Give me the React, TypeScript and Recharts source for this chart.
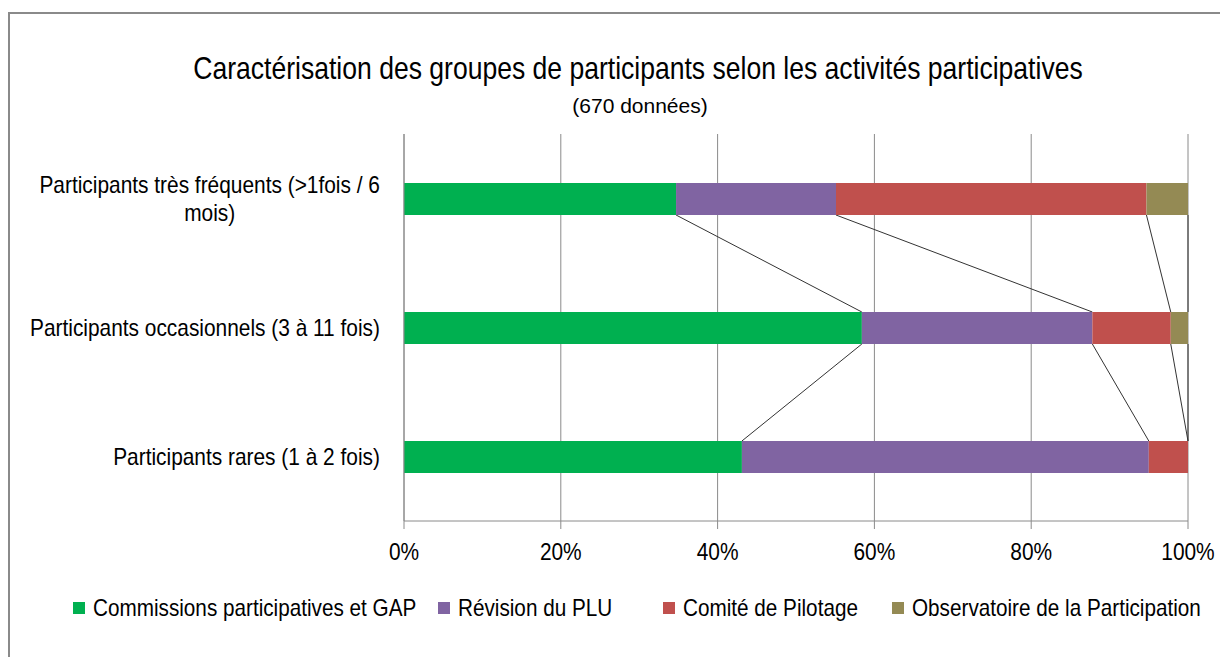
import React from "react";
import { BarChart, Bar, XAxis, YAxis, CartesianGrid } from "recharts";

// données (en %)
const categories = [
  "Participants très fréquents (>1fois / 6 mois)",
  "Participants occasionnels (3 à 11 fois)",
  "Participants rares (1 à 2 fois)",
];
const seriesNames = [
  "Commissions participatives et GAP",
  "Révision du PLU",
  "Comité de Pilotage",
  "Observatoire de la Participation",
];
const commissions = [34.7, 58.4, 43.1];
const revision = [20.4, 29.4, 51.9];
const comite = [39.6, 10.0, 5.0];
const observatoire = [5.3, 2.2, 0];
const xTicks = [0, 20, 40, 60, 80, 100];

const seriesKeys = ["commissions", "revision", "comite", "observatoire"];
const seriesValues = [commissions, revision, comite, observatoire];
const colors = ["#00B050", "#8064A2", "#C0504D", "#948A54"];

const data = categories.map((name, i) => ({
  name,
  commissions: commissions[i],
  revision: revision[i],
  comite: comite[i],
  observatoire: observatoire[i],
}));

const W = 1220;
const H = 657;
const MARGIN = { top: 134, right: 32, bottom: 96, left: 0 };
const XAXIS_H = 40;
const PLOT_H = H - MARGIN.top - MARGIN.bottom - XAXIS_H;
const STEP = PLOT_H / categories.length;
const FONT = '"Liberation Sans", Arial, sans-serif';
const SX = 0.87; // police un peu étroite dans l'original
const LEG_FS = 23.8;
const LEG_LEFT = [73, 438, 663, 892]; // position des carrés de légende

let ctx: CanvasRenderingContext2D | null = null;
const measure = (text: string, size: number) => {
  if (!ctx) ctx = document.createElement("canvas").getContext("2d");
  if (!ctx) return text.length * size * 0.5 * SX;
  ctx.font = `${size}px "Liberation Sans"`;
  return ctx.measureText(text).width * SX;
};

const wrap = (text: string, size: number, maxW: number) => {
  const words = text.split(" ");
  const lines: string[] = [];
  let cur = "";
  words.forEach((w) => {
    const test = cur ? cur + " " + w : w;
    if (cur && measure(test, size) > maxW) {
      lines.push(cur);
      cur = w;
    } else cur = test;
  });
  if (cur) lines.push(cur);
  return lines;
};

const cumBefore = (k: number, row: number) => {
  let s = 0;
  for (let j = 0; j < k; j++) s += seriesValues[j][row];
  return s;
};

// rectangle + ligne de série vers la barre suivante
const makeShape = (k: number) => (props: any) => {
  const { x, y, width, height, index, fill } = props;
  const v = seriesValues[k][index];
  let line = null;
  if (index < categories.length - 1 && v > 0) {
    const unit = width / v;
    const left = x - cumBefore(k, index) * unit;
    const nextEnd = cumBefore(k + 1, index + 1);
    line = (
      <line
        x1={x + width}
        y1={y + height}
        x2={left + nextEnd * unit}
        y2={y + STEP}
        stroke="#333"
        strokeWidth={1}
      />
    );
  }
  return (
    <g>
      <rect x={x} y={y} width={Math.max(width, 0)} height={height} fill={fill} />
      {line}
    </g>
  );
};

const XTick = (props: any) => {
  const { x, y, payload } = props;
  return (
    <text
      transform={`translate(${x},${y + 29}) scale(${SX},1)`}
      textAnchor="middle"
      fontSize={24}
      fontFamily={FONT}
      fill="#000"
    >
      {payload.value}%
    </text>
  );
};

const YTick = (props: any) => {
  const { x, y, payload } = props;
  const lines = wrap(String(payload.value), 24, 362);
  const maxW = Math.max(...lines.map((l) => measure(l, 24)));
  const cx = x - maxW / 2;
  return (
    <g>
      {lines.map((l, i) => (
        <text
          key={i}
          transform={`translate(${cx},${y + (i - (lines.length - 1) / 2) * 28}) scale(${SX},1)`}
          textAnchor="middle"
          dy="0.35em"
          fontSize={24}
          fontFamily={FONT}
          fill="#000"
        >
          {l}
        </text>
      ))}
    </g>
  );
};

const Legend = () => (
  <>
    {seriesNames.map((n, i) => (
      <div
        key={n}
        style={{
          position: "absolute",
          left: LEG_LEFT[i],
          top: 596,
          display: "flex",
          alignItems: "center",
          fontFamily: FONT,
          fontSize: LEG_FS,
          lineHeight: "24px",
          whiteSpace: "nowrap",
        }}
      >
        <div style={{ width: 12, height: 12, background: colors[i], marginRight: 8 }} />
        <div style={{ width: measure(n, LEG_FS), height: 24 }}>
          <span
            style={{
              display: "inline-block",
              transform: `scaleX(${SX})`,
              transformOrigin: "left center",
            }}
          >
            {n}
          </span>
        </div>
      </div>
    ))}
  </>
);

const App = () => {
  return (
    <div style={{ position: "relative", width: W, height: H, background: "#fff", overflow: "hidden" }}>
      <style>{"body{margin:0;overflow:hidden}"}</style>
      <div
        style={{
          position: "absolute",
          left: 8,
          top: 12,
          width: W,
          height: H,
          borderLeft: "2px solid #8a8a8a",
          borderTop: "2px solid #8a8a8a",
          boxSizing: "border-box",
        }}
      />
      <div
        style={{
          position: "absolute",
          left: 638,
          top: 52.5,
          fontFamily: FONT,
          fontSize: 30.5,
          lineHeight: "30.5px",
          whiteSpace: "nowrap",
          transform: `translateX(-50%) scaleX(${SX})`,
        }}
      >
        Caractérisation des groupes de participants selon les activités participatives
      </div>
      <div
        style={{
          position: "absolute",
          left: 640,
          top: 95.2,
          fontFamily: FONT,
          fontSize: 21,
          lineHeight: "21px",
          whiteSpace: "nowrap",
          transform: "translateX(-50%)",
        }}
      >
        (670 données)
      </div>
      <div style={{ position: "absolute", left: 0, top: 0 }}>
        <BarChart width={W} height={H} data={data} layout="vertical" margin={MARGIN} barSize={32}>
          <CartesianGrid horizontal={false} stroke="#8a8a8a" />
          <XAxis
            type="number"
            domain={[0, 100]}
            ticks={xTicks}
            height={XAXIS_H}
            tickSize={8}
            axisLine={{ stroke: "#8a8a8a" }}
            tickLine={{ stroke: "#8a8a8a" }}
            tick={<XTick />}
            interval={0}
          />
          <YAxis
            type="category"
            dataKey="name"
            width={404}
            tickLine={false}
            tickSize={0}
            tickMargin={24}
            axisLine={{ stroke: "#8a8a8a" }}
            tick={<YTick />}
            interval={0}
          />
          {seriesKeys.map((k, i) => (
            <Bar
              key={k}
              dataKey={k}
              stackId="a"
              fill={colors[i]}
              shape={makeShape(i)}
              isAnimationActive={false}
            />
          ))}
        </BarChart>
      </div>
      <Legend />
    </div>
  );
};

export default App;
